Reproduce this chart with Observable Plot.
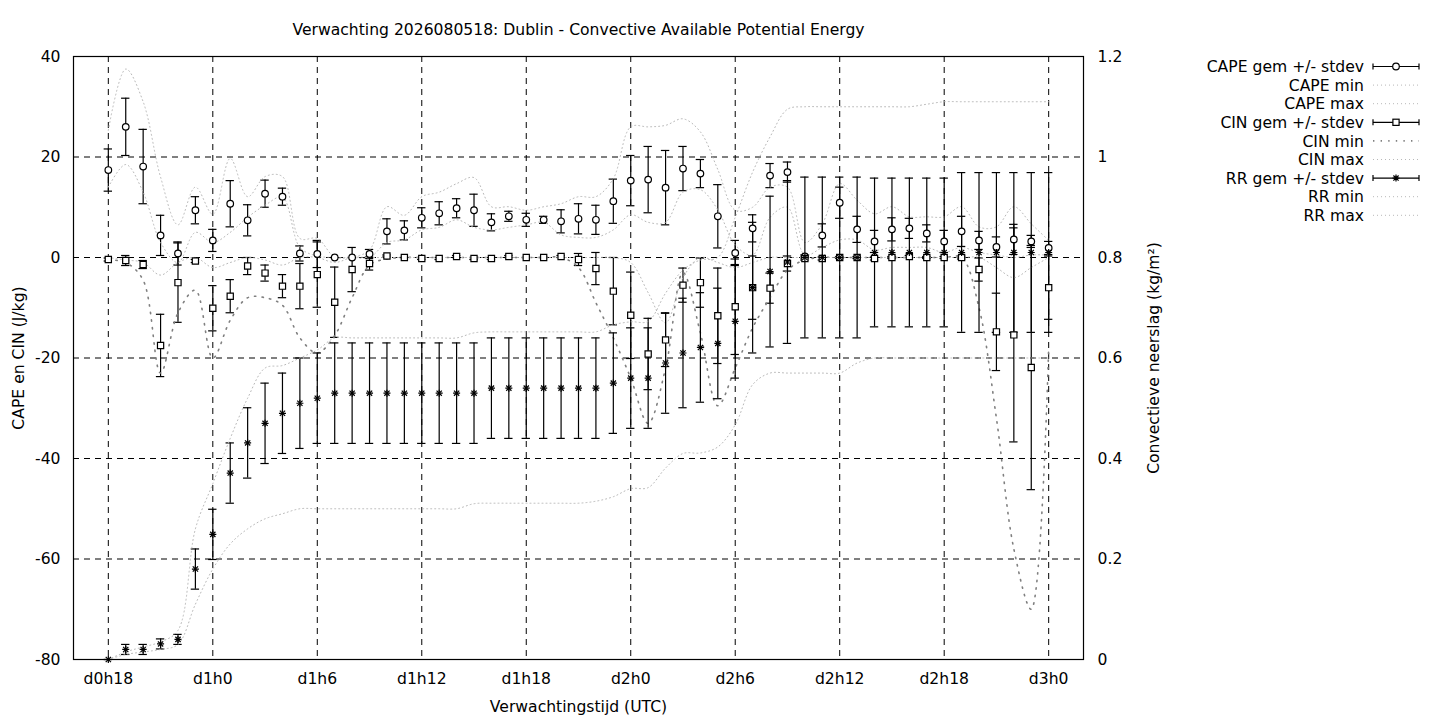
<!DOCTYPE html>
<html>
<head>
<meta charset="utf-8">
<script src="https://cdn.jsdelivr.net/npm/d3@7"></script>
<script src="https://cdn.jsdelivr.net/npm/@observablehq/plot@0.6"></script>
<style>
  body { margin: 0; background: #fff; }
  #chart { width: 1440px; height: 720px; }
</style>
</head>
<body>
<div id="chart"></div>
<script>
// ---------- data (hours since d0h0) ----------
const hours = [18,19,20,21,22,23, 24,25,26,27,28,29, 30,31,32,33,34,35, 36,37,38,39,40,41,
               42,43,44,45,46,47, 48,49,50,51,52,53, 54,55,56,57,58,59, 60,61,62,63,64,65,
               66,67,68,69,70,71, 72];
const xTicks = [18,24,30,36,42,48,54,60,66,72];
const xTickLabels = ["d0h18","d1h0","d1h6","d1h12","d1h18","d2h0","d2h6","d2h12","d2h18","d3h0"];
const yTicks = [-80,-60,-40,-20,0,20,40];
const rrTickLabels = ["0","0.2","0.4","0.6","0.8","1","1.2"];

const titleText = "Verwachting 2026080518: Dublin - Convective Available Potential Energy";
const yLabelLeft = "CAPE en CIN (J/kg)";
const yLabelRight = "Convectieve neerslag (kg/m²)";
const xLabel = "Verwachtingstijd (UTC)";
const legendLabels = ["CAPE gem +/- stdev","CAPE min","CAPE max","CIN gem +/- stdev","CIN min","CIN max","RR gem +/- stdev","RR min","RR max"];

// CAPE (J/kg)
const capeMean = [17.4,26.0,18.1,4.4,0.8,9.4, 3.4,10.7,7.4,12.7,12.1,0.8, 0.7,0.0,0.0,0.7,5.2,5.4,
  7.9,8.8,9.8,9.4,7.0,8.2, 7.5,7.5,7.2,7.7,7.5,11.2, 15.3,15.5,13.9,17.7,16.7,8.2,
  0.9,5.8,16.3,17.0,0.2,4.4, 10.9,5.6,3.2,5.6,5.8,4.8, 3.2,5.2,3.4,2.1,3.6,3.2, 1.9];
const capeSd = [4.2,5.7,7.4,4.0,2.3,2.7, 2.2,4.6,3.1,2.7,1.7,1.5, 2.7,0.0,0.0,0.9,2.5,1.9,
  2.0,2.3,1.9,3.2,1.7,1.0, 1.3,0.7,2.3,3.0,2.9,4.4, 5.0,6.6,7.4,4.4,2.8,6.3,
  2.5,2.7,2.4,2.0,0.3,2.3, 3.1,2.6,2.2,2.3,2.0,1.7, 2.2,3.0,1.8,2.0,3.0,1.2, 1.3];
const capeMin = [14,18.5,13,3,-1,5, 3,5,8,10.4,12,2, 0.3,0,0,0,3,3.5,
  5.5,6,7.5,6,5.5,6, 6.5,7,4.5,4,4,5.5, 8.5,7,7,13,13.5,9.5,
  2.5,0.5,8,10,0.5,2, 3.5,3.5,1.5,2,2,2, 1,2,1,0.5,0,0.5, 0.5];
const capeMax = [25.3,37.5,31,16,6.5,14, 8.6,19.7,12.1,16.1,16.1,3.8, 3.8,0.1,0.1,1.5,10.1,8.4,
  12.1,13.0,14.7,15.9,10.1,10.1, 9.4,10.1,10.7,12.1,12.1,15.7, 26.0,26.0,26.3,27.6,25,17.5,
  9.4,10,14,14,3,6.7, 14.7,11.4,8.7,10.1,8.1,8.1, 8.1,10.1,6.1,6.1,10.1,6.7, 3.4];

// CIN (J/kg)
const cinMean = [-0.4,-0.6,-1.4,-17.5,-5.0,-0.7, -10.1,-7.7,-1.7,-3.1,-5.7,-5.7, -3.4,-8.9,-2.4,-1.2,0.3,0.0,
  -0.2,-0.2,0.2,-0.2,-0.2,0.2, 0.0,0.0,0.2,-0.4,-2.2,-6.7, -11.5,-19.2,-16.4,-5.5,-5.0,-11.6,
  -9.8,-6.0,-6.1,-1.2,-0.2,-0.2, 0.0,0.0,-0.2,0.0,0.2,0.0, 0.0,0.0,-2.4,-14.8,-15.4,-21.9, -6.0];
const cinSd = [0.3,1.0,0.8,6.2,7.9,0.3, 4.5,3.3,1.7,1.6,2.3,4.5, 6.5,7.0,4.4,1.3,0.2,0.0,
  0.2,0.2,0.2,0.2,0.2,0.2, 0.0,0.0,0.2,1.2,3.2,6.7, 8.6,7.1,5.3,3.4,4.9,9.5,
  9.5,6.3,3.0,1.5,0.3,0.3, 0.2,0.2,0.3,0.2,0.2,0.2, 0.2,0.3,2.3,7.7,21.3,24.3, 6.3];
const cinMin = [-0.5,-1,-4.5,-23,-11,-6.5, -20,-12.5,-8,-8,-9.5,-16, -19,-15.5,-8,-1.5,-0.3,0,
  0,0,0,0,0,0, 0,0,0,-2,-9,-16, -24,-33,-22,-3,-15,-29.5,
  -22,-14,-8,-2.5,-0.5,0, 0,0,0,0,0,0, 0,0,-10,-32,-58,-70, -18];
const cinMax = [0,-0.5,-1,-3.5,-1,0, -2,-1,0,-0.5,-1.5,0, 0,-1,0,0,0,0,
  0,0,0,0,0,0, 0,0,0,0,0,0, -1,-7,-13,-4,0,-1,
  -2,-1,0,0,0,0, 0,0,0,0,0,0, 0,0,0,-2,-4,-2, 0];

// RR convective precipitation (kg/m2)
const rrMean = [0.00,0.02,0.02,0.031,0.04,0.18, 0.249,0.371,0.431,0.47,0.49,0.51, 0.52,0.53,0.53,0.53,0.53,0.53,
  0.53,0.53,0.53,0.53,0.54,0.54, 0.54,0.54,0.54,0.54,0.54,0.55, 0.56,0.56,0.59,0.61,0.621,0.629,
  0.673,0.74,0.772,0.791,0.80,0.80, 0.80,0.80,0.81,0.81,0.81,0.81, 0.81,0.81,0.81,0.81,0.81,0.81, 0.81];
const rrSd = [0,0.01,0.01,0.01,0.01,0.04, 0.05,0.06,0.07,0.08,0.08,0.09, 0.09,0.10,0.10,0.10,0.10,0.10,
  0.10,0.10,0.10,0.10,0.10,0.10, 0.10,0.10,0.10,0.10,0.10,0.10, 0.10,0.10,0.10,0.109,0.109,0.11,
  0.113,0.13,0.15,0.162,0.16,0.16, 0.16,0.16,0.148,0.148,0.148,0.148, 0.148,0.159,0.159,0.159,0.159,0.159, 0.159];
const rrMin = [0,0.01,0.015,0.02,0.03,0.11, 0.18,0.23,0.26,0.28,0.29,0.30, 0.30,0.30,0.30,0.30,0.30,0.30,
  0.30,0.30,0.30,0.31,0.311,0.311, 0.311,0.311,0.311,0.311,0.315,0.324, 0.34,0.342,0.381,0.41,0.411,0.423,
  0.467,0.547,0.57,0.57,0.57,0.57, 0.57,0.59,0.60,0.60,0.60,0.60, 0.60,0.60,0.60,0.60,0.60,0.60, 0.60];
const rrMax = [0,0.015,0.025,0.035,0.058,0.26, 0.35,0.44,0.52,0.58,0.585,0.60, 0.616,0.64,0.64,0.64,0.64,0.64,
  0.64,0.64,0.64,0.65,0.652,0.652, 0.652,0.652,0.652,0.652,0.652,0.666, 0.672,0.673,0.729,0.775,0.795,0.80,
  0.88,0.97,1.04,1.095,1.10,1.10, 1.10,1.10,1.10,1.10,1.10,1.105, 1.11,1.11,1.11,1.11,1.11,1.11, 1.11];

// right axis (0..1.2) mapped onto the left axis (-80..40)
const rrToLeft = r => -80 + r * 100;

const rows = hours.map((h, i) => ({
  h,
  capeM: capeMean[i], capeS: capeSd[i], capeMin: capeMin[i], capeMax: capeMax[i],
  cinM: cinMean[i], cinS: cinSd[i], cinMin: cinMin[i], cinMax: cinMax[i],
  rrM: rrToLeft(rrMean[i]), rrS: rrSd[i] * 100, rrMin: rrToLeft(rrMin[i]), rrMax: rrToLeft(rrMax[i])
}));

const CAP = 0.24; // half cap width in hours
const LW = 1.2;
function errorBars(m, s) {
  return [
    Plot.ruleX(rows, {x: "h", y1: d => d[m] - d[s], y2: d => d[m] + d[s], stroke: "black", strokeWidth: LW}),
    Plot.ruleY(rows, {y: d => d[m] - d[s], x1: d => d.h - CAP, x2: d => d.h + CAP, stroke: "black", strokeWidth: LW}),
    Plot.ruleY(rows, {y: d => d[m] + d[s], x1: d => d.h - CAP, x2: d => d.h + CAP, stroke: "black", strokeWidth: LW})
  ];
}
const light = {stroke: "#b8b8b8", strokeWidth: 1, strokeDasharray: "1,3", curve: "catmull-rom"};
const dark = {stroke: "#808080", strokeWidth: 1.6, strokeDasharray: "1.4,6.2", curve: "catmull-rom"};

const plot = Plot.plot({
  width: 1440,
  height: 720,
  marginLeft: 73,
  marginRight: 357,
  marginTop: 56,
  marginBottom: 61,
  style: {fontFamily: "'DejaVu Sans', sans-serif", fontSize: "15.6px", background: "white", color: "black"},
  x: {domain: [16, 74]},
  y: {domain: [-80, 40]},
  marks: [
    Plot.ruleX(xTicks, {stroke: "black", strokeWidth: 1, strokeDasharray: "6,5"}),
    Plot.ruleY(yTicks, {stroke: "black", strokeWidth: 1, strokeDasharray: "6,5"}),
    Plot.axisX(xTicks, {tickFormat: d => xTickLabels[xTicks.indexOf(d)], tickSize: 0, tickPadding: 13, label: null, fontSize: 15.6}),
    Plot.axisY(yTicks, {anchor: "left", tickFormat: d => String(d), tickSize: 0, tickPadding: 13, label: null, fontSize: 15.6}),
    Plot.axisY(yTicks, {anchor: "right", tickFormat: d => rrTickLabels[yTicks.indexOf(d)], tickSize: 0, tickPadding: 14, label: null, fontSize: 15.6}),

    // CAPE
    ...errorBars("capeM", "capeS"),
    Plot.line(rows, {x: "h", y: "capeMin", ...light}),
    Plot.line(rows, {x: "h", y: "capeMax", ...light}),
    // CIN
    ...errorBars("cinM", "cinS"),
    Plot.line(rows, {x: "h", y: "cinMin", ...dark}),
    Plot.line(rows, {x: "h", y: "cinMax", ...light}),
    // RR
    ...errorBars("rrM", "rrS"),
    Plot.line(rows, {x: "h", y: "rrMin", ...light}),
    Plot.line(rows, {x: "h", y: "rrMax", ...light}),

    Plot.dot(rows, {x: "h", y: "capeM", r: 3.3, stroke: "black", fill: "white", strokeWidth: LW}),
    Plot.dot(rows, {x: "h", y: "cinM", symbol: "square", r: 3.5, stroke: "black", fill: "white", strokeWidth: LW}),
    Plot.dot(rows, {x: "h", y: "rrM", symbol: "plus", r: 2.4, stroke: "black", strokeWidth: LW}),
    Plot.dot(rows, {x: "h", y: "rrM", symbol: "times", r: 2.5, stroke: "black", strokeWidth: LW}),

    Plot.frame({stroke: "black", strokeWidth: 1.2}),

    Plot.text([titleText], {text: d => d, frameAnchor: "top", dy: -27, lineAnchor: "middle", fontSize: 15.6}),
    Plot.text([xLabel], {text: d => d, frameAnchor: "bottom", dy: 47, lineAnchor: "middle", fontSize: 15.6}),
    Plot.text([yLabelLeft], {text: d => d, frameAnchor: "left", dx: -55, rotate: -90, textAnchor: "middle", lineAnchor: "middle", fontSize: 15.6}),
    Plot.text([yLabelRight], {text: d => d, frameAnchor: "right", dx: 70, rotate: -90, textAnchor: "middle", lineAnchor: "middle", fontSize: 15.6})
  ]
});

// ---------- legend (key) ----------
const svg = d3.select(plot);
const key = svg.append("g").attr("font-family", "'DejaVu Sans', sans-serif").attr("font-size", "15.6px");
const legendTypes = ["errCircle","light","light","errSquare","dark","light","errStar","light","light"];
const kx0 = 1373, kx1 = 1419, kxm = 1396, ky0 = 66.5, kdy = 18.6;
legendLabels.forEach((lab, i) => {
  const y = ky0 + i * kdy;
  key.append("text").attr("x", 1364).attr("y", y).attr("dy", "0.36em").attr("text-anchor", "end").attr("fill", "black").text(lab);
  const t = legendTypes[i];
  if (t === "light" || t === "dark") {
    key.append("line").attr("x1", kx0).attr("x2", kx1).attr("y1", y).attr("y2", y)
      .attr("stroke", t === "light" ? light.stroke : dark.stroke)
      .attr("stroke-width", t === "light" ? light.strokeWidth : dark.strokeWidth)
      .attr("stroke-dasharray", t === "light" ? light.strokeDasharray : dark.strokeDasharray);
  } else {
    key.append("line").attr("x1", kx0).attr("x2", kx1).attr("y1", y).attr("y2", y).attr("stroke", "black").attr("stroke-width", LW);
    key.append("line").attr("x1", kx0).attr("x2", kx0).attr("y1", y - 3).attr("y2", y + 3).attr("stroke", "black").attr("stroke-width", LW);
    key.append("line").attr("x1", kx1).attr("x2", kx1).attr("y1", y - 3).attr("y2", y + 3).attr("stroke", "black").attr("stroke-width", LW);
    if (t === "errCircle") {
      key.append("circle").attr("cx", kxm).attr("cy", y).attr("r", 3.3).attr("fill", "white").attr("stroke", "black").attr("stroke-width", LW);
    } else if (t === "errSquare") {
      key.append("rect").attr("x", kxm - 3.1).attr("y", y - 3.1).attr("width", 6.2).attr("height", 6.2).attr("fill", "white").attr("stroke", "black").attr("stroke-width", LW);
    } else {
      const p = d3.path();
      p.moveTo(kxm - 3.5, y); p.lineTo(kxm + 3.5, y);
      p.moveTo(kxm, y - 3.5); p.lineTo(kxm, y + 3.5);
      p.moveTo(kxm - 2.6, y - 2.6); p.lineTo(kxm + 2.6, y + 2.6);
      p.moveTo(kxm - 2.6, y + 2.6); p.lineTo(kxm + 2.6, y - 2.6);
      key.append("path").attr("d", p.toString()).attr("stroke", "black").attr("stroke-width", LW).attr("fill", "none");
    }
  }
});

document.getElementById("chart").appendChild(plot);
</script>
</body>
</html>
